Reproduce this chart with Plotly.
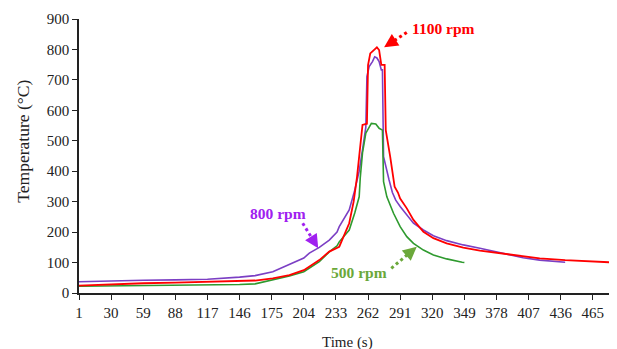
import plotly.graph_objects as go

# ---- data (time in s, temperature in °C) ----
t_800 = [1, 30, 59, 88, 117, 146, 160, 176, 191, 204, 209, 218, 227, 234, 236, 241, 245, 250, 254, 257,
         259, 260, 261, 263, 266, 268, 270, 272, 274, 275, 276, 278, 281, 284, 287, 291, 297, 303, 312,
         321, 333, 348, 363, 378, 402, 417, 440]
T_800 = [37, 40, 42, 43, 45, 52, 57, 70, 95, 115, 131, 150, 174, 200, 218, 250, 273, 338, 400, 470,
         530, 545, 711, 744, 760, 776, 772, 760, 733, 733, 448, 415, 371, 330, 305, 284, 256, 229, 207,
         188, 172, 158, 147, 136, 116, 108, 101]

t_1100 = [1, 30, 59, 88, 117, 146, 160, 176, 191, 204, 209, 218, 227, 234, 236, 245, 249, 252, 254, 257,
          261, 262, 264, 267, 270, 272, 274, 277, 278, 282, 286, 289, 291, 297, 303, 312, 321, 333, 348,
          363, 378, 402, 417, 440, 463, 485]
T_1100 = [24, 29, 32, 34, 36, 39, 41, 48, 59, 75, 86, 108, 136, 148, 152, 229, 300, 380, 450, 552,
          556, 749, 787, 798, 807, 798, 749, 749, 535, 448, 349, 330, 310, 278, 240, 201, 180, 163, 149,
          139, 132, 119, 114, 108, 105, 100]

t_500 = [1, 30, 59, 88, 117, 146, 160, 176, 191, 204, 209, 218, 227, 234, 236, 245, 250, 254, 255, 257,
         260, 263, 265, 269, 272, 275, 276, 279, 285, 291, 297, 303, 312, 321, 333, 347, 349]
T_500 = [22, 23, 24, 25, 26, 28, 30, 43, 56, 70, 81, 103, 135, 155, 168, 207, 263, 316, 380, 460,
         525, 545, 557, 555, 541, 535, 366, 316, 262, 218, 185, 163, 141, 125, 112, 101, 100]

x_ticks = [1, 30, 59, 88, 117, 146, 175, 204, 233, 262, 291, 320, 349, 378, 407, 436, 465]
y_ticks = [0, 100, 200, 300, 400, 500, 600, 700, 800, 900]

labels = ["1100 rpm", "800 rpm", "500 rpm"]
x_title = "Time (s)"
y_title = "Temperature (°C)"

FONT = "Liberation Serif, Times New Roman, serif"
RED = "#FF0000"
PURPLE = "#7B3FC4"
GREEN = "#2E9A2E"
PURPLE_TXT = "#A020F0"
GREEN_TXT = "#6BA83A"
INK = "#222222"

fig = go.Figure()
fig.add_trace(go.Scatter(x=t_800, y=T_800, mode="lines", line=dict(color=PURPLE, width=1.6), name="800 rpm"))
fig.add_trace(go.Scatter(x=t_500, y=T_500, mode="lines", line=dict(color=GREEN, width=1.6), name="500 rpm"))
fig.add_trace(go.Scatter(x=t_1100, y=T_1100, mode="lines", line=dict(color=RED, width=1.8), name="1100 rpm"))

# annotations: label text, dotted leader, arrowhead
ann_specs = [
    # text, text x, text y, color, start x, start y, tip x, tip y
    (labels[0], 330, 870, RED, 297, 856, 276.5, 807),
    (labels[1], 181, 262, PURPLE_TXT, 203, 229, 217, 147),
    (labels[2], 254, 67, GREEN_TXT, 283, 81, 306, 152),
]
for txt, tx, ty, col, sx, sy, ex, ey in ann_specs:
    fig.add_annotation(x=tx, y=ty, text="<b>%s</b>" % txt, showarrow=False,
                       font=dict(family=FONT, size=15.5, color=col))
    mx = sx + (ex - sx) * 0.72
    my = sy + (ey - sy) * 0.72
    fig.add_shape(type="line", x0=sx, y0=sy, x1=mx, y1=my, xref="x", yref="y",
                  line=dict(color=col, width=3, dash="3px,3px"))
    hx = sx + (ex - sx) * 0.68
    hy = sy + (ey - sy) * 0.68
    fig.add_annotation(x=ex, y=ey, ax=hx, ay=hy, axref="x", ayref="y", xref="x", yref="y",
                       text="", showarrow=True, arrowhead=2, arrowsize=1.1, arrowwidth=2.5,
                       arrowcolor=col)

# axis titles
fig.add_annotation(x=-0.105, y=0.555, xref="paper", yref="paper", text=y_title, textangle=-90,
                   xanchor="center", yanchor="middle",
                   showarrow=False, font=dict(family=FONT, size=17.5, color=INK))
fig.add_annotation(x=0.5, y=-0.179, xref="paper", yref="paper", text=x_title,
                   xanchor="center", yanchor="middle",
                   showarrow=False, font=dict(family=FONT, size=15, color=INK))

# page body has an 8px default margin, so the figure is sized/placed to fit the window
fig.update_layout(
    width=609, height=341,
    margin=dict(l=71, r=2, t=11, b=56),
    paper_bgcolor="white", plot_bgcolor="white",
    showlegend=False,
    font=dict(family=FONT, size=15, color=INK),
)
fig.update_xaxes(
    range=[1, 485], tickmode="array", tickvals=x_ticks, ticktext=[str(v) for v in x_ticks],
    showgrid=False, zeroline=False, showline=True, linecolor=INK, linewidth=1.5,
    ticks="outside", ticklen=5, tickwidth=1.2, tickcolor=INK,
)
fig.update_yaxes(
    range=[0, 900], tickmode="array", tickvals=y_ticks,
    showgrid=False, zeroline=False, showline=True, linecolor=INK, linewidth=1.5,
    ticks="outside", ticklen=5, tickwidth=1.2, tickcolor=INK,
)

fig.write_html("out.html")
